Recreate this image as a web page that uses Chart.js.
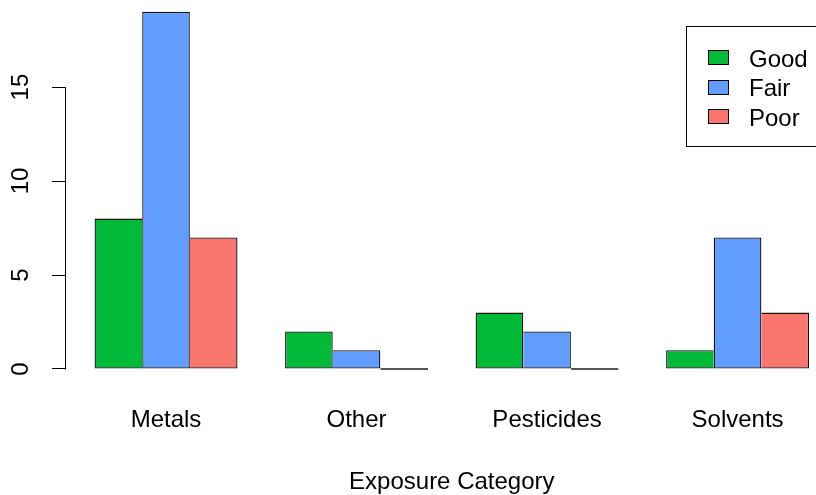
<!DOCTYPE html>
<html><head><meta charset="utf-8">
<script src="https://cdn.jsdelivr.net/npm/chart.js@4"></script>
<style>html,body{margin:0;padding:0;background:#fff;overflow:hidden}</style>
</head><body>
<canvas id="c" width="816" height="495" style="width:816px;height:495px;display:block"></canvas>
<script>
// ---- data ----
const categories = ['Metals', 'Other', 'Pesticides', 'Solvents'];
const seriesNames = ['Good', 'Fair', 'Poor'];
const good = [8, 2, 3, 1];
const fair = [19, 1, 2, 7];
const poor = [7, 0, 0, 3];
const yTicks = [0, 5, 10, 15];
const xTitle = 'Exposure Category';
const colors = ['#00BA38', '#619CFF', '#F8766D'];

const series = [good, fair, poor];
// group centres on a linear axis (each bar = 1 unit, 1 unit gap before each group)
const groupX = categories.map((_, i) => 4 * i + 2.5);
const FONT = { family: '"Liberation Sans", Arial, sans-serif', size: 24 };
const BW = 1.3;

function borderW(ctx) {
  if (ctx.dataIndex === undefined) return BW;
  const k = ctx.datasetIndex, i = ctx.dataIndex;
  const v = series[k][i];
  const prev = k > 0 ? series[k - 1][i] : undefined;
  const next = k < series.length - 1 ? series[k + 1][i] : undefined;
  return {
    top: BW, bottom: BW,
    left: (prev === undefined || prev < v) ? BW : 0,
    right: (next === undefined || next <= v) ? BW : 0
  };
}
function borderC(ctx) {
  if (ctx.dataIndex === undefined) return '#111';
  return series[ctx.datasetIndex][ctx.dataIndex] === 0 ? '#555' : '#111';
}

function noPad(s) {
  s.paddingTop = 0; s.paddingBottom = 0; s.paddingLeft = 0; s.paddingRight = 0;
}

// R's plot region runs past the right edge of the picture; extend the x scale likewise
const extendX = {
  id: 'extendX',
  afterLayout(chart) {
    const s = chart.scales.x;
    s.right = chart.width + 21.6;
    s.width = s.right - s.left;
    s.configure();
  }
};

const axisLine = {
  id: 'axisLine',
  afterDraw(chart) {
    const s = chart.scales.y, ctx = chart.ctx;
    const x = Math.round(s.right) - 0.5;
    ctx.save();
    ctx.strokeStyle = '#000';
    ctx.lineWidth = 1;
    ctx.beginPath();
    ctx.moveTo(x, Math.round(s.getPixelForValue(yTicks[0])) + 0.5);
    ctx.lineTo(x, Math.round(s.getPixelForValue(yTicks[yTicks.length - 1])) + 0.5);
    ctx.stroke();
    ctx.restore();
  }
};

const rLegend = {
  id: 'rLegend',
  afterDraw(chart) {
    const ctx = chart.ctx;
    ctx.save();
    ctx.lineWidth = 1;
    ctx.strokeStyle = '#000';
    ctx.fillStyle = '#fff';
    ctx.fillRect(686.5, 26.5, 140, 120);
    ctx.strokeRect(686.5, 26.5, 140, 120);
    ctx.font = '24px ' + FONT.family;
    ctx.textBaseline = 'alphabetic';
    ctx.textAlign = 'left';
    chart.data.datasets.forEach((ds, i) => {
      const cy = 57 + i * 29.5;
      ctx.fillStyle = ds.backgroundColor;
      ctx.fillRect(708.5, Math.round(cy - 7) + 0.5, 20, 14);
      ctx.strokeRect(708.5, Math.round(cy - 7) + 0.5, 20, 14);
      ctx.fillStyle = '#000';
      ctx.fillText(ds.label, 749, cy + 9.5);
    });
    ctx.restore();
  }
};

new Chart(document.getElementById('c'), {
  type: 'bar',
  data: {
    datasets: seriesNames.map((name, k) => ({
      label: name,
      data: series[k].map((v, i) => ({ x: groupX[i], y: v })),
      backgroundColor: colors[k],
      borderColor: borderC,
      borderWidth: borderW,
      borderSkipped: false,
      minBarLength: 2,
      categoryPercentage: 0.75,
      barPercentage: 1
    }))
  },
  options: {
    responsive: false,
    animation: false,
    devicePixelRatio: 1,
    layout: { padding: 0 },
    plugins: { legend: { display: false }, tooltip: { enabled: false } },
    scales: {
      x: {
        type: 'linear',
        offset: false,
        min: 0.4,
        max: 16.6,
        afterBuildTicks: s => { s.ticks = groupX.map(v => ({ value: v })); },
        grid: { display: false, drawTicks: false, offset: false },
        border: { display: false },
        ticks: {
          callback: (v, i) => categories[i],
          font: FONT, color: '#000', padding: 23,
          maxRotation: 0, minRotation: 0, autoSkip: false
        },
        title: { display: true, text: xTitle, font: FONT, color: '#000', padding: { top: 0, bottom: -2 } },
        afterFit: s => { s.height = 112; noPad(s); }
      },
      y: {
        min: -0.745,
        max: 19.63,
        afterBuildTicks: s => { s.ticks = yTicks.map(v => ({ value: v })); },
        grid: { drawOnChartArea: false, drawTicks: true, tickLength: 14, color: '#000', tickColor: '#000' },
        border: { display: false },
        ticks: {
          minRotation: 90, maxRotation: 90, crossAlign: 'center',
          padding: 17, font: FONT, color: '#000', autoSkip: false
        },
        afterFit: s => { s.width = 66; noPad(s); }
      }
    }
  },
  plugins: [extendX, axisLine, rLegend]
});
</script>
</body></html>
